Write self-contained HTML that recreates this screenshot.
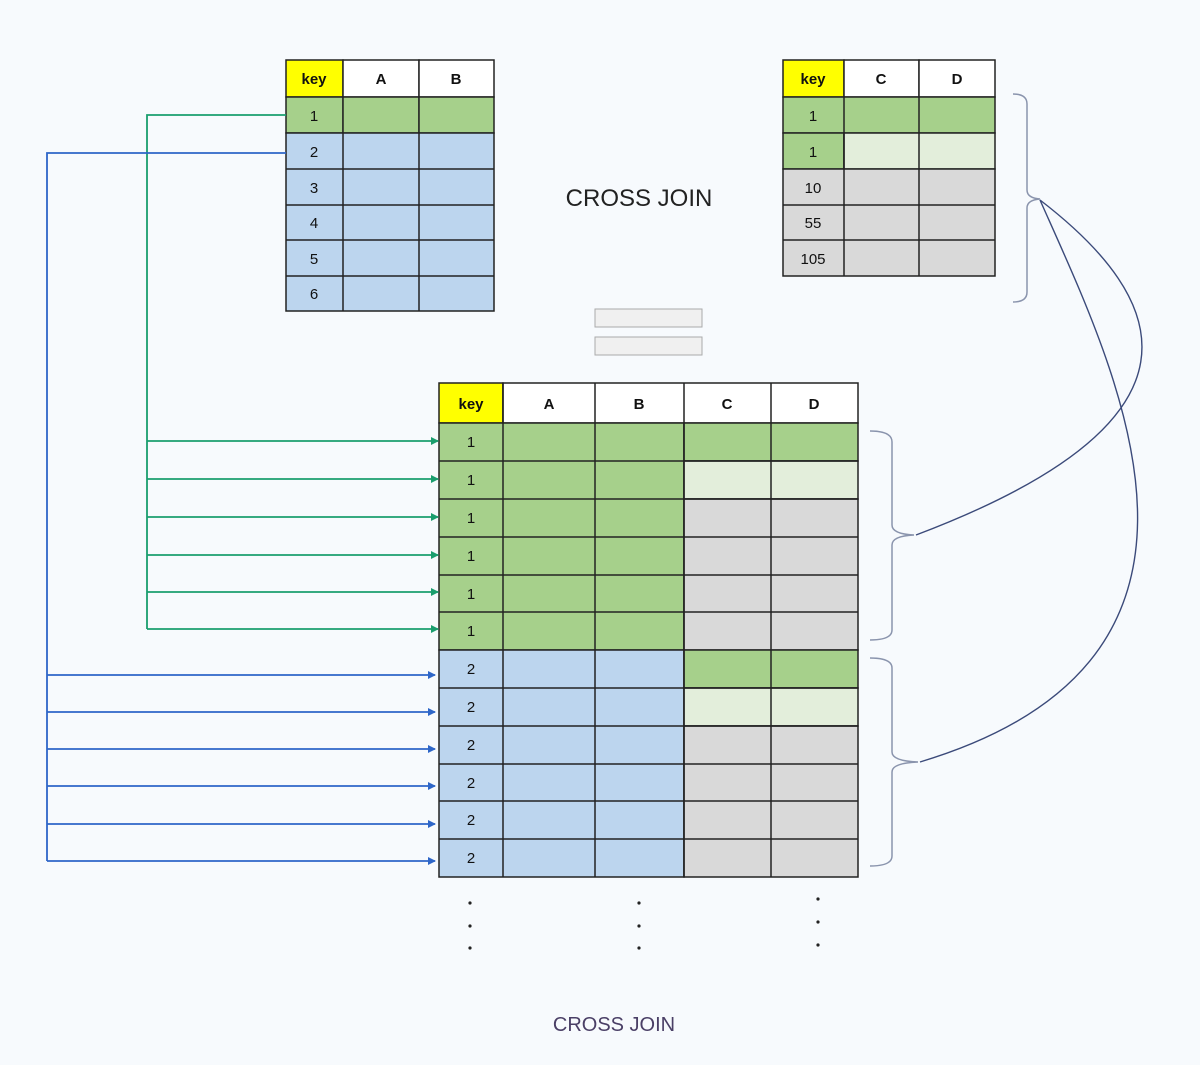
<!DOCTYPE html>
<html><head><meta charset="utf-8"><style>
html,body{margin:0;padding:0;background:#f7fafd;}
svg{display:block;font-family:"Liberation Sans",sans-serif;}
</style></head><body>
<svg width="1200" height="1065" viewBox="0 0 1200 1065" xmlns="http://www.w3.org/2000/svg">
<defs>
<marker id="ag" markerWidth="8" markerHeight="8" refX="7" refY="4" orient="auto" markerUnits="userSpaceOnUse"><path d="M0,0 L8,4 L0,8 z" fill="#1a9e6e"/></marker>
<marker id="ab" markerWidth="8" markerHeight="8" refX="7" refY="4" orient="auto" markerUnits="userSpaceOnUse"><path d="M0,0 L8,4 L0,8 z" fill="#2e66c8"/></marker>
</defs>
<rect width="1200" height="1065" fill="#f7fafd"/>

<!-- Table 1 -->
<g stroke="#222" stroke-width="1.5">
<rect x="286" y="60" width="57" height="37" fill="#ffff00"/>
<rect x="343" y="60" width="76" height="37" fill="#fff"/>
<rect x="419" y="60" width="75" height="37" fill="#fff"/>
<rect x="286" y="97" width="57" height="36" fill="#a6d08b"/>
<rect x="343" y="97" width="76" height="36" fill="#a6d08b"/>
<rect x="419" y="97" width="75" height="36" fill="#a6d08b"/>
<rect x="286" y="133" width="208" height="178" fill="#bcd5ee"/>
<line x1="343" y1="133" x2="343" y2="311"/><line x1="419" y1="133" x2="419" y2="311"/>
<line x1="286" y1="169" x2="494" y2="169"/><line x1="286" y1="205" x2="494" y2="205"/>
<line x1="286" y1="240" x2="494" y2="240"/><line x1="286" y1="276" x2="494" y2="276"/>
</g>
<g font-size="15" text-anchor="middle" fill="#111">
<text x="314" y="84" font-weight="bold">key</text><text x="381" y="84" font-weight="bold">A</text><text x="456" y="84" font-weight="bold">B</text>
<text x="314" y="121">1</text><text x="314" y="157">2</text><text x="314" y="193">3</text><text x="314" y="228">4</text><text x="314" y="264">5</text><text x="314" y="299">6</text>
</g>

<!-- Table 2 -->
<g stroke="#222" stroke-width="1.5">
<rect x="783" y="60" width="61" height="37" fill="#ffff00"/>
<rect x="844" y="60" width="75" height="37" fill="#fff"/>
<rect x="919" y="60" width="76" height="37" fill="#fff"/>
<rect x="783" y="97" width="212" height="36" fill="#a6d08b"/>
<rect x="783" y="133" width="61" height="36" fill="#a6d08b"/>
<rect x="844" y="133" width="151" height="36" fill="#e3eedb"/>
<rect x="783" y="169" width="212" height="107" fill="#d9d9d9"/>
<line x1="844" y1="97" x2="844" y2="276"/><line x1="919" y1="97" x2="919" y2="276"/>
<line x1="783" y1="205" x2="995" y2="205"/><line x1="783" y1="240" x2="995" y2="240"/>
</g>
<g font-size="15" text-anchor="middle" fill="#111">
<text x="813" y="84" font-weight="bold">key</text><text x="881" y="84" font-weight="bold">C</text><text x="957" y="84" font-weight="bold">D</text>
<text x="813" y="121">1</text><text x="813" y="157">1</text><text x="813" y="193">10</text><text x="813" y="228">55</text><text x="813" y="264">105</text>
</g>

<text x="639" y="206" font-size="24" text-anchor="middle" fill="#222">CROSS JOIN</text>

<!-- equals -->
<rect x="595" y="309" width="107" height="18" fill="#f0f0f0" stroke="#aaa" stroke-width="1"/>
<rect x="595" y="337" width="107" height="18" fill="#f0f0f0" stroke="#aaa" stroke-width="1"/>

<!-- Big table -->
<g stroke="#222" stroke-width="1.5">
<rect x="439" y="383" width="64" height="40" fill="#ffff00"/>
<rect x="503" y="383" width="355" height="40" fill="#fff"/>
<rect x="439" y="423" width="245" height="227" fill="#a6d08b"/>
<rect x="684" y="423" width="174" height="38" fill="#a6d08b"/>
<rect x="684" y="461" width="174" height="38" fill="#e3eedb"/>
<rect x="684" y="499" width="174" height="151" fill="#d9d9d9"/>
<rect x="439" y="650" width="245" height="227" fill="#bcd5ee"/>
<rect x="684" y="650" width="174" height="38" fill="#a6d08b"/>
<rect x="684" y="688" width="174" height="38" fill="#e3eedb"/>
<rect x="684" y="726" width="174" height="151" fill="#d9d9d9"/>
<line x1="503" y1="383" x2="503" y2="877"/><line x1="595" y1="383" x2="595" y2="877"/>
<line x1="684" y1="383" x2="684" y2="877"/><line x1="771" y1="383" x2="771" y2="877"/>
<line x1="439" y1="461" x2="858" y2="461"/><line x1="439" y1="499" x2="858" y2="499"/>
<line x1="439" y1="537" x2="858" y2="537"/><line x1="439" y1="575" x2="858" y2="575"/>
<line x1="439" y1="612" x2="858" y2="612"/>
<line x1="439" y1="688" x2="858" y2="688"/><line x1="439" y1="726" x2="858" y2="726"/>
<line x1="439" y1="764" x2="858" y2="764"/><line x1="439" y1="801" x2="858" y2="801"/>
<line x1="439" y1="839" x2="858" y2="839"/>
</g>
<g font-size="15" text-anchor="middle" fill="#111">
<text x="471" y="409" font-weight="bold">key</text><text x="549" y="409" font-weight="bold">A</text><text x="639" y="409" font-weight="bold">B</text><text x="727" y="409" font-weight="bold">C</text><text x="814" y="409" font-weight="bold">D</text>
<text x="471" y="447">1</text><text x="471" y="485">1</text><text x="471" y="523">1</text><text x="471" y="561">1</text><text x="471" y="599">1</text><text x="471" y="636">1</text>
<text x="471" y="674">2</text><text x="471" y="712">2</text><text x="471" y="750">2</text><text x="471" y="788">2</text><text x="471" y="825">2</text><text x="471" y="863">2</text>
</g>

<!-- dots -->
<g fill="#222">
<circle cx="470" cy="903" r="1.6"/><circle cx="470" cy="926" r="1.6"/><circle cx="470" cy="948" r="1.6"/>
<circle cx="639" cy="903" r="1.6"/><circle cx="639" cy="926" r="1.6"/><circle cx="639" cy="948" r="1.6"/>
<circle cx="818" cy="899" r="1.6"/><circle cx="818" cy="922" r="1.6"/><circle cx="818" cy="945" r="1.6"/>
</g>

<!-- green connectors -->
<g stroke="#1a9e6e" stroke-width="1.8" fill="none">
<polyline points="286,115 147,115 147,629"/>
<line x1="147" y1="441" x2="438" y2="441" marker-end="url(#ag)"/>
<line x1="147" y1="479" x2="438" y2="479" marker-end="url(#ag)"/>
<line x1="147" y1="517" x2="438" y2="517" marker-end="url(#ag)"/>
<line x1="147" y1="555" x2="438" y2="555" marker-end="url(#ag)"/>
<line x1="147" y1="592" x2="438" y2="592" marker-end="url(#ag)"/>
<line x1="147" y1="629" x2="438" y2="629" marker-end="url(#ag)"/>
</g>
<!-- blue connectors -->
<g stroke="#2e66c8" stroke-width="1.8" fill="none">
<polyline points="286,153 47,153 47,861"/>
<line x1="47" y1="675" x2="435" y2="675" marker-end="url(#ab)"/>
<line x1="47" y1="712" x2="435" y2="712" marker-end="url(#ab)"/>
<line x1="47" y1="749" x2="435" y2="749" marker-end="url(#ab)"/>
<line x1="47" y1="786" x2="435" y2="786" marker-end="url(#ab)"/>
<line x1="47" y1="824" x2="435" y2="824" marker-end="url(#ab)"/>
<line x1="47" y1="861" x2="435" y2="861" marker-end="url(#ab)"/>
</g>

<!-- brackets -->
<g stroke="#8a94ad" stroke-width="1.5" fill="none">
<path d="M1013,94 Q1027,94 1027,104 L1027,190 Q1027,198 1040,199 Q1027,200 1027,208 L1027,292 Q1027,302 1013,302"/>
<path d="M870,431 Q892,431 892,442 L892,525 Q892,534 914,535 Q892,536 892,545 L892,630 Q892,640 870,640"/>
<path d="M870,658 Q892,658 892,668 L892,752 Q892,761 918,762 Q892,763 892,772 L892,856 Q892,866 870,866"/>
</g>
<g stroke="#3b4a7a" stroke-width="1.4" fill="none">
<path d="M1040,200 C1170,300 1220,420 916,535"/>
<path d="M1040,200 C1120,380 1260,660 920,762"/>
</g>

<text x="614" y="1031" font-size="20" text-anchor="middle" fill="#4a3f66">CROSS JOIN</text>
</svg>
</body></html>
